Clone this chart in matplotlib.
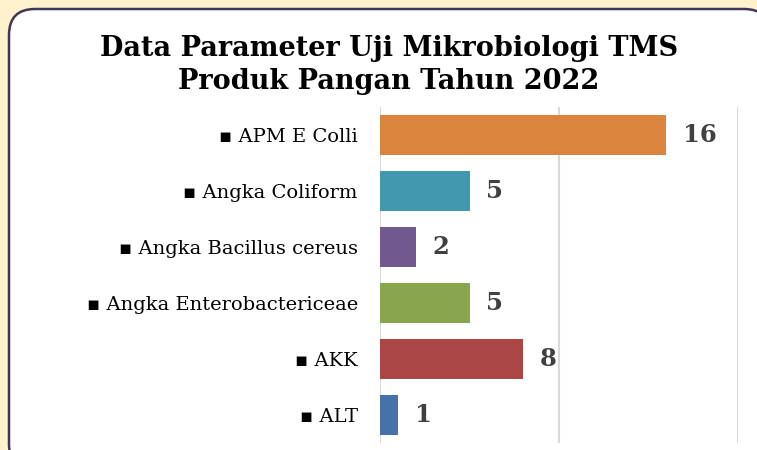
import matplotlib.pyplot as plt
from matplotlib.patches import FancyBboxPatch

# data (bottom to top)
categories = ["ALT", "AKK", "Angka Enterobactericeae", "Angka Bacillus cereus",
              "Angka Coliform", "APM E Colli"]
values = [1, 8, 5, 2, 5, 16]
colors = ["#4572A7", "#AA4643", "#89A54E", "#71588F", "#4198AF", "#DB843D"]

fig = plt.figure(figsize=(7.57, 4.5), dpi=100)
fig.patch.set_facecolor("#FFF2CC")

# white rounded panel (pixel coords)
panel = FancyBboxPatch((9, -20), 761, 461,
                       boxstyle="round,pad=0,rounding_size=26",
                       transform=None, facecolor="white",
                       edgecolor="#3F3658", linewidth=1.8, zorder=-5)
fig.patches.append(panel)

fig.text(0.514, 0.855, "Data Parameter Uji Mikrobiologi TMS\nProduk Pangan Tahun 2022",
         ha="center", va="center", fontsize=19.5, fontweight="bold",
         family="DejaVu Serif", linespacing=1.3)

ax = fig.add_axes([380 / 757, 7 / 450, 358 / 757, 336 / 450])
ax.set_facecolor("none")
y = range(len(categories))
bars = ax.barh(y, values, height=0.714, color=colors, zorder=3)

ax.set_xlim(0, 20)
ax.set_ylim(-0.5, len(categories) - 0.5)
ax.set_xticks([0, 10, 20])
ax.xaxis.grid(True, color="#D9D9D9", linewidth=1.5)
ax.tick_params(axis="x", length=0, labelbottom=False)
ax.tick_params(axis="y", length=0, pad=16)
ax.set_yticks(list(y))
ax.set_yticklabels(["\u25aa " + c for c in categories],
                   family=["DejaVu Serif", "DejaVu Sans"], fontsize=14)
for s in ax.spines.values():
    s.set_visible(False)

for b, v in zip(bars, values):
    ax.annotate(str(v), (b.get_width(), b.get_y() + b.get_height() / 2),
                xytext=(12, 0), textcoords="offset points", va="center",
                fontsize=17.5, fontweight="bold", color="#404040",
                family="DejaVu Serif")

fig.savefig("out.png", dpi=100, facecolor=fig.get_facecolor())
